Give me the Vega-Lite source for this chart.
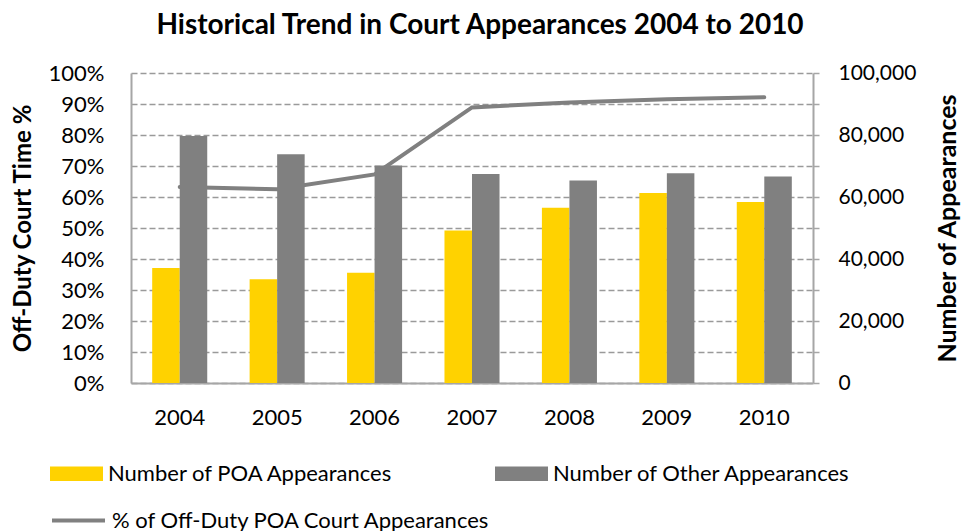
{
  "$schema": "https://vega.github.io/schema/vega-lite/v6.json",
  "autosize": {"type": "none"},
  "width": 682,
  "height": 310,
  "padding": {"left": 131, "top": 73, "right": 148, "bottom": 148},
  "background": "white",
  "config": {
    "view": {"stroke": null},
    "font": "Lato",
    "axis": {"labelFont": "Lato", "titleFont": "Lato", "labelColor": "#000000", "titleColor": "#000000"}
  },
  "title": {
    "text": "Historical Trend in Court Appearances 2004 to 2010",
    "font": "Lato",
    "fontSize": 28,
    "fontWeight": "bold",
    "color": "#000000",
    "anchor": "middle",
    "frame": "group",
    "offset": 22,
    "dx": 8
  },
  "datasets": {
    "bars": [
      {"year": "2004", "series": "Number of POA Appearances", "value": 37100},
      {"year": "2005", "series": "Number of POA Appearances", "value": 33500},
      {"year": "2006", "series": "Number of POA Appearances", "value": 35600},
      {"year": "2007", "series": "Number of POA Appearances", "value": 49200},
      {"year": "2008", "series": "Number of POA Appearances", "value": 56500},
      {"year": "2009", "series": "Number of POA Appearances", "value": 61300},
      {"year": "2010", "series": "Number of POA Appearances", "value": 58400},
      {"year": "2004", "series": "Number of Other Appearances", "value": 79700},
      {"year": "2005", "series": "Number of Other Appearances", "value": 73800},
      {"year": "2006", "series": "Number of Other Appearances", "value": 70200},
      {"year": "2007", "series": "Number of Other Appearances", "value": 67400},
      {"year": "2008", "series": "Number of Other Appearances", "value": 65300},
      {"year": "2009", "series": "Number of Other Appearances", "value": 67700},
      {"year": "2010", "series": "Number of Other Appearances", "value": 66600}
    ],
    "pct": [
      {"year": "2004", "pct": 0.632},
      {"year": "2005", "pct": 0.625},
      {"year": "2006", "pct": 0.673},
      {"year": "2007", "pct": 0.889},
      {"year": "2008", "pct": 0.905},
      {"year": "2009", "pct": 0.915},
      {"year": "2010", "pct": 0.922}
    ]
  },
  "layer": [
    {
      "data": {"name": "bars"},
      "mark": {"type": "bar"},
      "encoding": {
        "x": {
          "field": "year", "type": "nominal",
          "scale": {"paddingInner": 0.435, "paddingOuter": 0.2175},
          "axis": {
            "title": null, "labelAngle": 0, "labelFontSize": 22, "ticks": false,
            "labelPadding": 24, "domainColor": "#a6a6a6", "domainWidth": 2, "grid": false
          }
        },
        "xOffset": {
          "field": "series", "type": "nominal",
          "sort": ["Number of POA Appearances", "Number of Other Appearances"],
          "scale": {"paddingInner": 0, "paddingOuter": 0}
        },
        "y": {
          "field": "value", "type": "quantitative",
          "scale": {"domain": [0, 100000], "nice": false},
          "axis": {
            "orient": "right",
            "title": "Number of Appearances",
            "titleFontSize": 25, "titleFontWeight": "bold", "titleAngle": 270,
            "titlePadding": 45,
            "values": [0, 10000, 20000, 30000, 40000, 50000, 60000, 70000, 80000, 90000, 100000],
            "labelExpr": "datum.value % 20000 == 0 ? format(datum.value, ',') : ''",
            "labelFontSize": 21, "labelPadding": 19,
            "ticks": true, "tickSize": 6, "tickColor": "#a6a6a6", "tickWidth": 1.5,
            "domainColor": "#a6a6a6", "domainWidth": 2, "grid": false
          }
        },
        "fill": {
          "field": "series", "type": "nominal",
          "sort": ["Number of POA Appearances", "Number of Other Appearances"],
          "scale": {"range": ["#FFD200", "#808080"]},
          "legend": {
            "title": null, "orient": "none", "legendX": -81, "legendY": 374,
            "direction": "horizontal", "columns": 2, "columnPadding": 101,
            "symbolType": "M-1,-0.27H1V0.27H-1Z", "symbolSize": 2809, "symbolStrokeWidth": 0,
            "labelFont": "Lato", "labelFontSize": 22, "labelColor": "#000000", "labelOffset": 5,
            "labelLimit": 400
          }
        }
      }
    },
    {
      "data": {"name": "pct"},
      "mark": {"type": "line", "strokeWidth": 4, "strokeCap": "round"},
      "encoding": {
        "x": {"field": "year", "type": "nominal"},
        "y": {
          "field": "pct", "type": "quantitative",
          "scale": {"domain": [0, 1], "nice": false},
          "axis": {
            "orient": "left",
            "title": "Off-Duty Court Time %",
            "titleFontSize": 24, "titleFontWeight": "bold",
            "titlePadding": 13,
            "values": [0, 0.1, 0.2, 0.3, 0.4, 0.5, 0.6, 0.7, 0.8, 0.9, 1],
            "format": ".0%",
            "labelFontSize": 22, "labelPadding": 27,
            "ticks": false,
            "domainColor": "#a6a6a6", "domainWidth": 2,
            "grid": true, "gridDash": [6, 3], "gridColor": "#9a9a9a", "gridWidth": 1.5
          }
        },
        "stroke": {
          "datum": "% of Off-Duty POA Court Appearances",
          "type": "nominal",
          "scale": {"range": ["#808080"]},
          "legend": {
            "title": null, "orient": "none", "legendX": -81, "legendY": 419,
            "symbolType": "stroke", "symbolSize": 2809, "symbolStrokeWidth": 4,
            "labelFont": "Lato", "labelFontSize": 22, "labelColor": "#000000", "labelOffset": 5,
            "labelLimit": 500
          }
        }
      }
    }
  ],
  "resolve": {"scale": {"y": "independent"}, "axis": {"y": "independent"}}
}
